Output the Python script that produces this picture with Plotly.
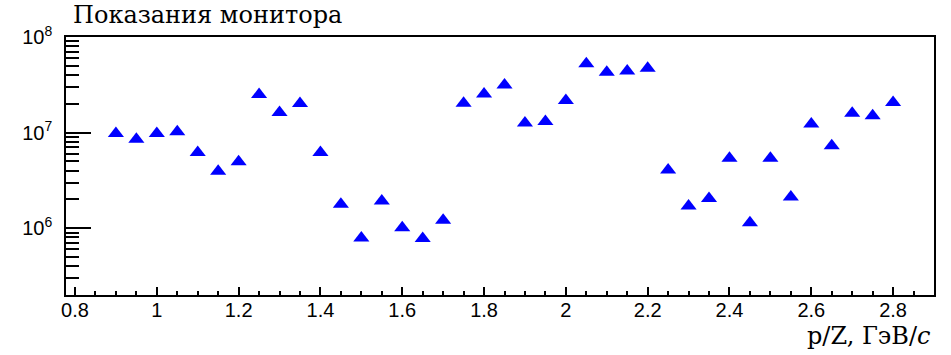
import plotly.graph_objects as go

# Data
p_over_z = [0.90, 0.95, 1.00, 1.05, 1.10, 1.15, 1.20, 1.25, 1.30, 1.35,
            1.40, 1.45, 1.50, 1.55, 1.60, 1.65, 1.70, 1.75, 1.80, 1.85,
            1.90, 1.95, 2.00, 2.05, 2.10, 2.15, 2.20, 2.25, 2.30, 2.35,
            2.40, 2.45, 2.50, 2.55, 2.60, 2.65, 2.70, 2.75, 2.80]
monitor_counts = [9.8e6, 8.5e6, 9.8e6, 1.02e7, 6.2e6, 3.94e6, 4.95e6, 2.5e7, 1.62e7, 2.02e7,
                  6.2e6, 1.78e6, 7.9e5, 1.93e6, 1.01e6, 7.8e5, 1.21e6, 2.03e7, 2.54e7, 3.15e7,
                  1.26e7, 1.31e7, 2.16e7, 5.24e7, 4.28e7, 4.41e7, 4.7e7, 4.05e6, 1.71e6, 2.04e6,
                  5.38e6, 1.14e6, 5.4e6, 2.12e6, 1.23e7, 7.3e6, 1.59e7, 1.50e7, 2.07e7]

x_tick_vals = [0.8, 1.0, 1.2, 1.4, 1.6, 1.8, 2.0, 2.2, 2.4, 2.6, 2.8]
x_tick_text = ["0.8", "1", "1.2", "1.4", "1.6", "1.8", "2", "2.2", "2.4", "2.6", "2.8"]
y_tick_vals = [1e6, 1e7, 1e8]
y_tick_text = ["10<sup>6</sup>", "10<sup>7</sup>", "10<sup>8</sup>"]
y_minor_vals = [m * 10 ** e for e in (5, 6, 7) for m in range(2, 10)]

title_text = "Показания монитора"
x_title_text = "p/Z, ГэВ/<i>c</i>"

fig = go.Figure()
fig.add_trace(go.Scatter(
    x=p_over_z, y=monitor_counts, mode="markers",
    marker=dict(symbol="triangle-up", size=14, color="#0000ff", line=dict(width=0)),
    showlegend=False,
))

tick_font = dict(family="Liberation Sans, Arial, sans-serif", size=20, color="#000")
serif = "DejaVu Serif, Liberation Serif, serif"

fig.update_layout(
    width=951, height=355,
    margin=dict(l=66, r=17, t=37, b=60),
    paper_bgcolor="white", plot_bgcolor="white",
    xaxis=dict(
        range=[0.778, 2.9], tickmode="array", tickvals=x_tick_vals, ticktext=x_tick_text,
        ticks="inside", ticklen=8, tickwidth=1.5, tickcolor="#000",
        minor=dict(dtick=0.05, tick0=0.8, ticks="inside", ticklen=4, tickwidth=1.5, tickcolor="#000"),
        showline=True, linecolor="#000", linewidth=1.5, mirror=True,
        showgrid=False, zeroline=False, tickfont=tick_font, ticklabelstandoff=-4,
    ),
    yaxis=dict(
        type="log", range=[5.301, 8.0], tickmode="array", tickvals=y_tick_vals, ticktext=y_tick_text,
        ticks="inside", ticklen=25, tickwidth=1.5, tickcolor="#000",
        minor=dict(tickmode="array", tickvals=y_minor_vals, ticks="inside", ticklen=13,
                   tickwidth=1.5, tickcolor="#000"),
        showline=True, linecolor="#000", linewidth=1.5, mirror=True,
        showgrid=False, zeroline=False, tickfont=tick_font, ticklabelstandoff=8,
    ),
    annotations=[
        dict(text=title_text, xref="paper", yref="paper", x=0.006, y=1.0 + 22 / 258,
             xanchor="left", yanchor="middle", showarrow=False,
             font=dict(family=serif, size=24, color="#000")),
        dict(text=x_title_text, xref="paper", yref="paper", x=0.998, y=-41 / 258,
             xanchor="right", yanchor="middle", showarrow=False,
             font=dict(family=serif, size=24, color="#000")),
    ],
)

fig.write_html("out.html")
